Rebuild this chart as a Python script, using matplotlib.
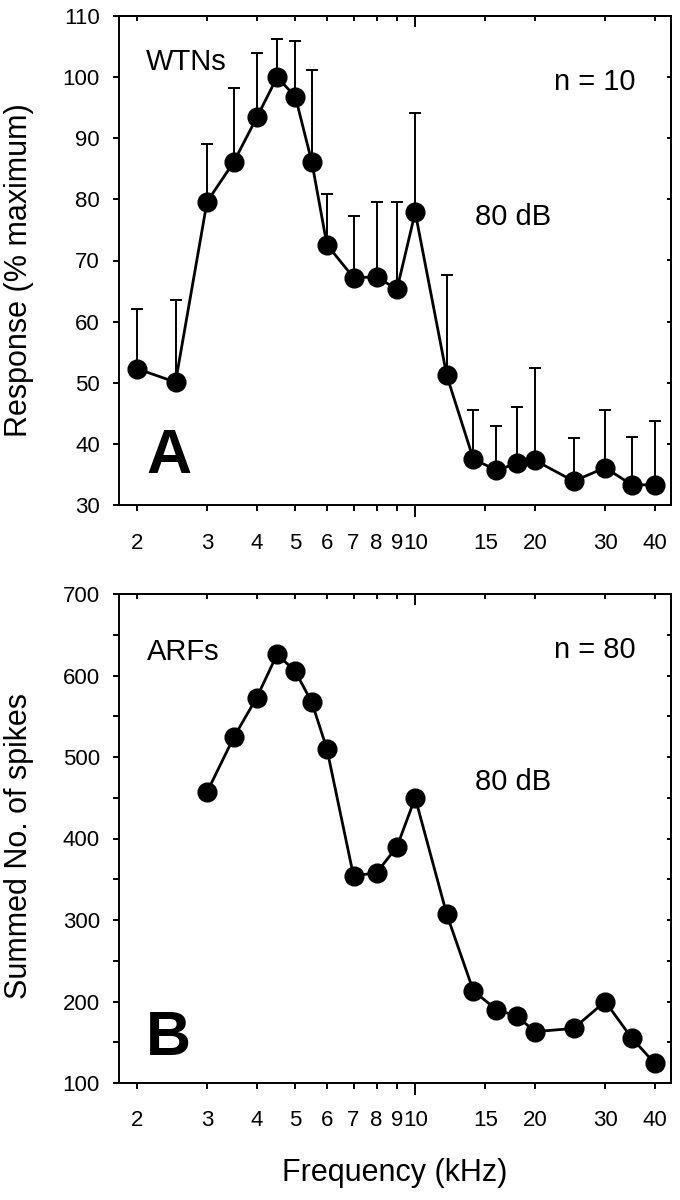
import matplotlib
matplotlib.use('Agg')
import matplotlib.pyplot as plt
import numpy as np
from matplotlib.ticker import FixedLocator, FixedFormatter, NullFormatter, MultipleLocator

plt.rcParams['font.family'] = ['Liberation Sans', 'DejaVu Sans']

# panel A: white-noise responses (mean and upper SD)
freq_a = [2, 2.5, 3, 3.5, 4, 4.5, 5, 5.5, 6, 7, 8, 9, 10, 12, 14, 16, 18, 20, 25, 30, 35, 40]
resp_a = [52.3, 50.1, 79.6, 86.1, 93.4, 100.0, 96.8, 86.1, 72.6, 67.2, 67.3, 65.3, 77.9,
          51.2, 37.5, 35.7, 36.8, 37.3, 33.9, 36.1, 33.3, 33.3]
sd_a = [9.7, 13.4, 9.4, 12.2, 10.5, 6.3, 9.1, 15.0, 8.2, 10.1, 12.2, 14.2, 16.2,
        16.4, 8.0, 7.2, 9.3, 15.1, 7.1, 9.4, 7.8, 10.4]

# panel B: summed spikes of ARFs
freq_b = [3, 3.5, 4, 4.5, 5, 5.5, 6, 7, 8, 9, 10, 12, 14, 16, 18, 20, 25, 30, 35, 40]
spikes_b = [457, 524, 573, 626, 605, 567, 510, 354, 358, 390, 450, 307, 213, 190, 182,
            163, 167, 200, 155, 124]

xminor = [2, 3, 4, 5, 6, 7, 8, 9, 15, 20, 30, 40]
xminor_labels = ['2', '3', '4', '5', '6', '7', '8', '9', '15', '20', '30', '40']
xmajor = [10]
xmajor_labels = ['10']

LW = 1.4


def style_axes(ax, ymin, ymax, ystep, yminor):
    ax.set_xscale('log')
    ax.set_xlim(1.803, 43.9)
    ax.set_ylim(ymin, ymax)
    ax.xaxis.set_major_locator(FixedLocator(xmajor))
    ax.xaxis.set_major_formatter(FixedFormatter(xmajor_labels))
    ax.xaxis.set_minor_locator(FixedLocator(xminor))
    ax.xaxis.set_minor_formatter(FixedFormatter(xminor_labels))
    ax.yaxis.set_major_locator(MultipleLocator(ystep))
    if yminor:
        ax.yaxis.set_minor_locator(MultipleLocator(yminor))
    else:
        ax.yaxis.set_minor_locator(FixedLocator([]))
    ax.tick_params(axis='x', which='major', direction='out', length=8.3, width=LW,
                   pad=11.5, labelsize=16)
    ax.tick_params(axis='x', which='minor', direction='out', length=4.3, width=LW,
                   pad=15.5, labelsize=16)
    ax.tick_params(axis='y', which='both', direction='out', length=4.3, width=LW,
                   pad=9.4, labelsize=16)
    for s in ax.spines.values():
        s.set_linewidth(LW)

    # mirrored ticks pointing inward
    top = ax.secondary_xaxis('top')
    top.xaxis.set_major_locator(FixedLocator(xmajor))
    top.xaxis.set_minor_locator(FixedLocator(xminor))
    top.xaxis.set_major_formatter(NullFormatter())
    top.xaxis.set_minor_formatter(NullFormatter())
    top.tick_params(axis='x', which='major', direction='in', length=8.0, width=LW)
    top.tick_params(axis='x', which='minor', direction='in', length=3.8, width=LW)
    top.spines['top'].set_linewidth(LW)

    right = ax.secondary_yaxis('right')
    right.yaxis.set_major_locator(MultipleLocator(ystep))
    if yminor:
        right.yaxis.set_minor_locator(MultipleLocator(yminor))
    else:
        right.yaxis.set_minor_locator(FixedLocator([]))
    right.yaxis.set_major_formatter(NullFormatter())
    right.yaxis.set_minor_formatter(NullFormatter())
    right.tick_params(axis='y', which='both', direction='in', length=3.0, width=LW)
    right.spines['right'].set_linewidth(LW)


fig = plt.figure(figsize=(6.8, 12), dpi=100)
ax_a = fig.add_axes([119 / 680, 1 - 505 / 1200, 552 / 680, 489 / 1200])
ax_b = fig.add_axes([119 / 680, 1 - 1083 / 1200, 552 / 680, 489 / 1200])

# panel A
ax_a.errorbar(freq_a, resp_a, yerr=[np.zeros(len(sd_a)), sd_a], fmt='none',
              ecolor='black', elinewidth=LW, capsize=4.2, capthick=LW, zorder=2)
ax_a.plot(freq_a, resp_a, color='black', lw=2.0, marker='o', ms=13.5,
          mfc='black', mec='black', zorder=3)
style_axes(ax_a, 30, 110, 10, None)

ax_a.text(0.049, 0.89, 'WTNs', transform=ax_a.transAxes, fontsize=21, va='baseline')
ax_a.text(0.936, 0.849, 'n = 10', transform=ax_a.transAxes, fontsize=21,
          va='baseline', ha='right')
ax_a.text(0.645, 0.573, '80 dB', transform=ax_a.transAxes, fontsize=21, va='baseline')
ax_a.text(0.049, 0.065, 'A', transform=ax_a.transAxes, fontsize=45,
          fontweight='bold', va='baseline')

# panel B
ax_b.plot(freq_b, spikes_b, color='black', lw=2.0, marker='o', ms=13.5,
          mfc='black', mec='black', zorder=3)
style_axes(ax_b, 100, 700, 100, 50)

ax_b.text(0.051, 0.865, 'ARFs', transform=ax_b.transAxes, fontsize=21, va='baseline')
ax_b.text(0.936, 0.869, 'n = 80', transform=ax_b.transAxes, fontsize=21,
          va='baseline', ha='right')
ax_b.text(0.645, 0.599, '80 dB', transform=ax_b.transAxes, fontsize=21, va='baseline')
ax_b.text(0.049, 0.058, 'B', transform=ax_b.transAxes, fontsize=45,
          fontweight='bold', va='baseline')

# axis labels
fig.text(19 / 680, 1 - 270 / 1200, 'Response (% maximum)', rotation=90,
         ha='center', va='center', fontsize=22)
fig.text(19 / 680, 1 - 846 / 1200, 'Summed No. of spikes', rotation=90,
         ha='center', va='center', fontsize=22)
fig.text(395 / 680, 1 - 1181 / 1200, 'Frequency (kHz)', ha='center',
         va='baseline', fontsize=22)

fig.savefig('out.png', dpi=100)
